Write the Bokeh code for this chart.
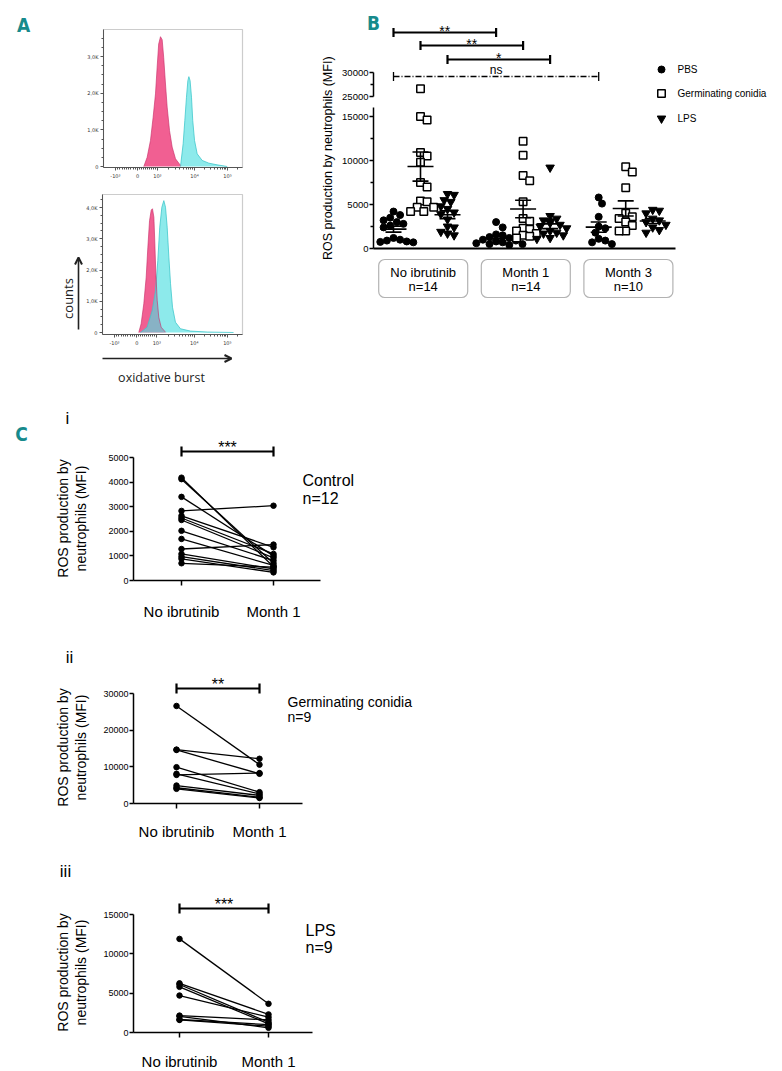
import numpy as np
from bokeh.plotting import figure
from bokeh.models import Range1d, LinearAxis, FixedTicker, BoxAnnotation, Arrow, OpenHead
from bokeh.core.properties import value
from bokeh.embed import file_html
from bokeh.resources import INLINE

# ======================= DATA =======================
# Panel A - flow cytometry histograms (display channel 0-1000 vs. cell counts)
flow_ticks = [86, 245, 388, 655, 892]
flow_tick_labels = ["-10³", "0", "10³", "10⁴", "10⁵"]
a1_yticks = [0, 1000, 2000, 3000]
a1_ylabels = ["0", "1,0K", "2,0K", "3,0K"]
a2_yticks = [0, 1000, 2000, 3000, 4000]
a2_ylabels = ["0", "1,0K", "2,0K", "3,0K", "4,0K"]
a1_pink_ch = [290, 314, 338, 357, 374, 386, 397, 410, 422, 433, 446, 458, 475, 494, 518, 554]
a1_pink_n = [0, 250, 710, 1340, 1980, 2710, 3340, 3540, 3460, 2980, 2250, 1620, 980, 530, 210, 30]
a1_cyan_ch = [554, 573, 585, 597, 607, 614, 623, 633, 642, 655, 674, 710, 758, 818, 890]
a1_cyan_n = [0, 620, 1250, 1890, 2340, 2450, 2340, 1890, 1250, 710, 345, 165, 90, 45, 0]
a2_pink_ch = [259, 276, 295, 312, 324, 336, 348, 357, 367, 374, 381, 391, 402, 419, 450]
a2_pink_n = [0, 280, 920, 1770, 2730, 3580, 3920, 3960, 3690, 2840, 1880, 1020, 490, 170, 10]
a2_cyan_ch = [271, 319, 355, 379, 395, 409, 424, 438, 450, 462, 474, 486, 500, 521, 557, 629, 748, 936]
a2_cyan_n = [0, 170, 700, 1340, 2300, 3370, 4010, 4220, 4010, 3370, 2410, 1560, 810, 330, 120, 45, 15, 0]

# Panel B - ROS production by neutrophils (MFI)
b_groups = ["No ibrutinib", "Month 1", "Month 3"]
b_group_n = ["n=14", "n=14", "n=10"]
b_series = ["PBS", "Germinating conidia", "LPS"]
b_pbs = [[4200, 3800, 3500, 3200, 3000, 2800, 2600, 2400, 1200, 1000, 900, 800, 750, 700],
         [3000, 2400, 1600, 1500, 1300, 1200, 1000, 900, 800, 700, 600, 500, 500, 400],
         [5800, 5100, 3600, 2500, 2300, 1800, 1100, 900, 700, 500]]
b_conidia = [[26600, 15000, 14600, 10900, 10500, 9800, 7500, 7000, 5400, 5300, 4700, 4700, 4200, 4200],
             [12200, 10600, 8300, 7700, 5300, 3400, 3100, 2300, 2200, 2000, 1700, 1500, 1400, 1200],
             [9300, 8700, 6900, 4000, 3600, 3400, 3000, 2600, 2000, 2000]]
b_lps = [[6200, 6100, 5500, 5300, 4800, 4500, 4100, 3900, 3300, 2500, 2400, 1900, 1700, 1500],
         [9200, 3700, 3400, 3200, 2900, 2700, 2500, 2300, 2000, 1800, 1700, 1500, 1200, 1100],
         [4400, 4300, 4000, 3400, 3200, 3000, 2700, 2400, 2100, 1800]]
b_lower_ticks = [0, 5000, 10000, 15000]
b_lower_minor = [2500, 7500, 12500]
b_upper_ticks = [25000, 30000]
b_upper_minor = [27500]
# (label, (group, series) from, (group, series) to)
b_comparisons = [("**", (0, 0), (1, 0)), ("**", (0, 1), (1, 1)),
                 ("*", (0, 2), (1, 2)), ("ns", (0, 0), (2, 0))]

# Panel C - paired data, No ibrutinib vs Month 1
c_categories = ["No ibrutinib", "Month 1"]
c1_before = [4180, 4120, 3400, 2830, 2630, 2540, 2460, 2020, 1690, 1280, 1080, 970, 880, 700]
c1_after = [560, 700, 1000, 3040, 1350, 1080, 920, 810, 610, 1460, 470, 400, 330, 540]
c2_before = [26600, 14700, 14600, 9900, 8100, 7800, 4900, 4300, 4000]
c2_after = [10600, 12200, 8100, 3100, 2600, 8300, 2200, 1700, 1500]
c3_before = [11900, 6250, 6100, 5800, 4700, 2150, 2050, 1650, 1600]
c3_after = [3650, 2300, 1300, 1100, 1950, 1600, 600, 1000, 800]
c1_ticks = [0, 1000, 2000, 3000, 4000, 5000]
c2_ticks = [0, 10000, 20000, 30000]
c3_ticks = [0, 5000, 10000, 15000]
c_titles = [("Control", "n=12"), ("Germinating conidia", "n=9"), ("LPS", "n=9")]
c_sig = ["***", "**", "***"]

# ======================= LAYOUT =======================
PAGE_W, PAGE_H = 782, 1071
LEFT, TOP = 0, 0
RIGHT, BOTTOM = LEFT + PAGE_W, TOP + PAGE_H
ARIAL = "Liberation Sans"
TEAL = "#178a8c"

XM, YM = {}, {}


def lin(v1, p1, v2, p2):
    k = (v2 - v1) / (p2 - p1)
    return lambda px: v1 + (px - p1) * k


def xscale(name, v1, p1, v2, p2):
    XM[name] = lin(v1, p1, v2, p2)


def yscale(name, v1, p1, v2, p2):
    YM[name] = lin(v1, p1, v2, p2)


xscale("a1", 0, 103, 1000, 242)
yscale("a1", 0, 166, 3000, 56)
xscale("a2", 0, 102, 1000, 242)
yscale("a2", 0, 332, 4000, 207)
xscale("b", 0, 393, 1, 420)
yscale("bl", 0, 248, 15000, 116)
yscale("bu", 25000, 96, 30000, 72)
xscale("c1", 0, 181, 1, 273)
yscale("c1", 0, 580, 5000, 457)
xscale("c2", 0, 176, 1, 259)
yscale("c2", 0, 803, 30000, 693)
xscale("c3", 0, 179, 1, 268)
yscale("c3", 0, 1032, 15000, 914)

p = figure(width=PAGE_W, height=PAGE_H, x_range=Range1d(LEFT, RIGHT), y_range=Range1d(BOTTOM, TOP),
           output_backend="svg", toolbar_location=None, min_border=0, title=None,
           x_axis_type=None, y_axis_type=None, outline_line_color=None)
p.background_fill_color = "white"
p.border_fill_color = "white"
p.extra_x_ranges = {n: Range1d(f(LEFT), f(RIGHT)) for n, f in XM.items()}
p.extra_y_ranges = {n: Range1d(f(BOTTOM), f(TOP)) for n, f in YM.items()}


def txt(x, y, s, size, align="center", baseline="middle", angle=0.0, font=ARIAL,
        color="black", style="normal", xr="default", yr="default"):
    p.text(x=[x], y=[y], text=[s], text_font=value(font), text_font_size=size, text_align=align,
           text_baseline=baseline, angle=angle, text_color=color, text_font_style=style,
           x_range_name=xr, y_range_name=yr)


def axis(side, xr, yr, loc, bounds, ticks, labels=None, minor=(), font=ARIAL, fs="9px",
         tick_out=4, minor_out=3, lw=1.5, color="black", standoff=1, label_color="black"):
    lo, hi = min(bounds), max(bounds)
    ticks = [t for t in ticks if lo <= t <= hi]
    ax = LinearAxis(x_range_name=xr, y_range_name=yr, fixed_location=loc, bounds=bounds,
                    ticker=FixedTicker(ticks=ticks, minor_ticks=[m for m in minor if lo <= m <= hi]),
                    axis_line_width=lw, axis_line_color=color,
                    major_tick_line_width=lw, major_tick_line_color=color,
                    major_tick_out=int(tick_out), major_tick_in=0,
                    minor_tick_line_width=lw, minor_tick_line_color=color,
                    minor_tick_out=int(minor_out), minor_tick_in=0,
                    major_label_text_font=font, major_label_text_font_size=fs,
                    major_label_standoff=int(standoff), major_label_text_color=label_color)
    if labels is not None:
        ax.major_label_overrides = {t: l for t, l in zip(ticks, labels)}
    p.add_layout(ax, side)
    return ax


# ---------------- Panel A ----------------
txt(23, 24, "A", "19px", font="DejaVu Sans Condensed", style="bold", color=TEAL)

flow_minor = ([245 - (245 - 86) * k / 10 for k in range(1, 10)] +
              [245 + (388 - 245) * k / 10 for k in range(1, 10)] +
              [388 + (655 - 388) * np.log10(k) for k in range(2, 10)] +
              [655 + (892 - 655) * np.log10(k) for k in range(2, 10)] +
              [892 + (892 - 655) * np.log10(k) for k in range(2, 4)])

PINK, PINK_LINE = "#f0568c", "#c8306a"
CYAN, CYAN_LINE = "#50dee1", "#40c8cc"

for name, (ftop, fbot), yt, yl, pk, pn, cy, cn in [
        ("a1", (29, 167), a1_yticks, a1_ylabels, a1_pink_ch, a1_pink_n, a1_cyan_ch, a1_cyan_n),
        ("a2", (194, 334), a2_yticks, a2_ylabels, a2_pink_ch, a2_pink_n, a2_cyan_ch, a2_cyan_n)]:
    ybot, ytop = YM[name](fbot), YM[name](ftop)
    p.varea(x=pk, y1=0, y2=pn, fill_color=PINK, fill_alpha=0.95, x_range_name=name, y_range_name=name)
    p.varea(x=cy, y1=0, y2=cn, fill_color=CYAN, fill_alpha=0.65, x_range_name=name, y_range_name=name)
    p.line(x=cy, y=cn, line_color=CYAN_LINE, line_width=0.8, x_range_name=name, y_range_name=name)
    p.line(x=pk, y=pn, line_color=PINK_LINE, line_width=0.8, line_alpha=0.8,
           x_range_name=name, y_range_name=name)
    p.add_layout(BoxAnnotation(left=0, right=1000, bottom=ybot, top=ytop, x_range_name=name,
                               y_range_name=name, fill_alpha=0, line_color="#555555", line_width=1.2))
    axis("left", name, name, 0, (ybot, ytop), yt, yl,
         minor=[250 * k for k in range(1, 18) if k % 4], font="DejaVu Sans", fs="5px",
         tick_out=3, minor_out=2, lw=1, color="#555555", standoff=2, label_color="#333333")
    axis("below", name, name, ybot, (0, 1000), flow_ticks, flow_tick_labels, minor=flow_minor,
         font="DejaVu Sans", fs="5px", tick_out=3, minor_out=2, lw=1,
         color="#555555", standoff=2, label_color="#333333")

txt(67, 298, "counts", "13px", angle=np.pi / 2, font="Open Sans", color="#222222")
txt(161, 377, "oxidative burst", "12.5px", font="Open Sans", color="#222222")
p.add_layout(Arrow(end=OpenHead(size=7, line_width=2, line_color="#222222"), x_start=78, y_start=329,
                   x_end=78, y_end=257, line_width=1.6, line_color="#222222"))
p.add_layout(Arrow(end=OpenHead(size=7, line_width=2, line_color="#222222"), x_start=102, y_start=358,
                   x_end=231, y_end=358, line_width=1.6, line_color="#222222"))

# ---------------- Panel B ----------------
txt(373, 22, "B", "19px", font="DejaVu Sans Condensed", style="bold", color=TEAL)
G_STEP = 3.8
bx_left, bx_right = XM["b"](373), XM["b"](675)
PX_X = 27.0                 # px per x unit
PX_LOW = 132.0 / 15000      # px per MFI (lower segment)
PX_UP = 24.0 / 5000         # px per MFI (upper segment)
BREAK = 16000

styles = [dict(marker="circle", size=7, fill_color="black", line_color="black", line_width=1),
          dict(marker="square", size=7.5, fill_color="white", line_color="black", line_width=1.5),
          dict(marker="inverted_triangle", size=8.5, fill_color="black", line_color="black", line_width=1)]


def swarm(vals, ppu, diam=6.6, step=3.3):
    vals = np.asarray(vals, float)
    ys = vals * ppu
    offs = np.zeros(len(vals))
    cands = [0.0]
    for k in range(1, 14):
        cands += [k * step, -k * step]
    placed = []
    for i in np.argsort(-vals, kind="stable"):
        for c in cands:
            if all((c - ox) ** 2 + (ys[i] - oy) ** 2 >= diam ** 2 for ox, oy in placed):
                offs[i] = c
                placed.append((c, ys[i]))
                break
    return offs / PX_X


def pos(g, s):
    return g * G_STEP + s


for g in range(3):
    for s, data in enumerate([b_pbs, b_conidia, b_lps]):
        vals = np.asarray(data[g], float)
        c = pos(g, s)
        low = vals[vals <= BREAK]
        up = vals[vals > BREAK]
        p.scatter(x=c + swarm(low, PX_LOW), y=low, x_range_name="b", y_range_name="bl", **styles[s])
        if len(up):
            p.scatter(x=c + swarm(up, PX_UP), y=up, x_range_name="b", y_range_name="bu", **styles[s])
        m = vals.mean()
        se = vals.std(ddof=1) / np.sqrt(len(vals))
        hw, cw = 13 / PX_X, 8 / PX_X
        p.segment(x0=[c - hw, c, c - cw, c - cw], y0=[m, m - se, m - se, m + se],
                  x1=[c + hw, c, c + cw, c + cw], y1=[m, m + se, m - se, m + se],
                  line_color="black", line_width=1.6, x_range_name="b", y_range_name="bl")

axis("left", "b", "bl", bx_left, (0, BREAK), b_lower_ticks, minor=b_lower_minor, fs="9.5px",
     tick_out=4, minor_out=3, standoff=1)
axis("left", "b", "bu", bx_left, (25000, 30000), b_upper_ticks, minor=b_upper_minor, fs="9.5px",
     tick_out=4, minor_out=3, standoff=1)
axis("below", "b", "bl", 0, (bx_left, bx_right), [], lw=1.8)

txt(327, 156, "ROS production  by neutrophils (MFI)", "12.5px", angle=np.pi / 2)

# group boxes
for g in range(3):
    cx = pos(g, 1) + 0.1
    hw = 44.5 / PX_X
    p.add_layout(BoxAnnotation(left=cx - hw, right=cx + hw, top=259, bottom=297, x_range_name="b",
                               fill_alpha=0, line_color="black", line_width=1.2, border_radius=6))
    txt(cx, 272, b_groups[g], "13px", xr="b")
    txt(cx, 286, b_group_n[g], "13px", xr="b")

# significance brackets
sig_levels = [32, 45, 59, 76]
for (lab, a, b), yb in zip(b_comparisons, sig_levels):
    x0, x1 = pos(*a), pos(*b)
    dashed = lab == "ns"
    lw = 1.3 if dashed else 2.2
    p.segment(x0=[x0], y0=[yb], x1=[x1], y1=[yb], line_color="black", line_width=lw,
              line_dash="6 2 1 2" if dashed else "solid", x_range_name="b")
    p.segment(x0=[x0, x1], y0=[yb - 4.5, yb - 4.5], x1=[x0, x1], y1=[yb + 4.5, yb + 4.5],
              line_color="black", line_width=lw, x_range_name="b")
    if dashed:
        txt((x0 + x1) / 2, yb - 7, lab, "12px", baseline="middle", xr="b")
    else:
        txt((x0 + x1) / 2, yb - 2, lab, "14px", baseline="alphabetic", xr="b")

# legend
for s, (name, yy) in enumerate(zip(b_series, [69, 93, 118])):
    p.scatter(x=[661], y=[yy], **styles[s])
    txt(677, yy, name, "10px", align="left")

# ---------------- Panel C ----------------
txt(21, 433, "C", "19px", font="DejaVu Sans Condensed", style="bold", color=TEAL)

c_panels = [
    dict(n="c1", before=c1_before, after=c1_after, ticks=c1_ticks, xend=320, ymax=5000, sig=451,
         roman=("i", 67, 418), title_xy=(302, 480, 498), ylab=518, lab_fs="16px", standoff=17),
    dict(n="c2", before=c2_before, after=c2_after, ticks=c2_ticks, xend=302, ymax=30000, sig=688,
         roman=("ii", 69, 657), title_xy=(287, 701, 716), ylab=747, lab_fs="14px", standoff=14),
    dict(n="c3", before=c3_before, after=c3_after, ticks=c3_ticks, xend=312, ymax=15000, sig=908,
         roman=("iii", 65, 871), title_xy=(305, 930, 947), ylab=972, lab_fs="16px", standoff=15),
]

for i, cp in enumerate(c_panels):
    n = cp["n"]
    xl, xr_ = XM[n](133), XM[n](cp["xend"])
    bef, aft = cp["before"], cp["after"]
    k = len(bef)
    p.segment(x0=[0] * k, y0=bef, x1=[1] * k, y1=aft, line_color="black", line_width=1.3,
              x_range_name=n, y_range_name=n)
    p.scatter(x=[0] * k + [1] * k, y=list(bef) + list(aft), marker="circle", size=5.5,
              fill_color="black", line_color="black", x_range_name=n, y_range_name=n)
    axis("left", n, n, xl, (0, cp["ymax"]), cp["ticks"], fs="9px", tick_out=4, standoff=1)
    axis("below", n, n, 0, (xl, xr_), [0, 1], c_categories, fs="15px", tick_out=5,
         standoff=cp["standoff"])
    # significance bracket
    yb = cp["sig"]
    p.segment(x0=[0], y0=[yb], x1=[1], y1=[yb], line_color="black", line_width=2.2,
              x_range_name=n)
    p.segment(x0=[0, 1], y0=[yb - 5, yb - 5], x1=[0, 1], y1=[yb + 5, yb + 5], line_color="black",
              line_width=2.2, x_range_name=n)
    txt(0.5, yb - 4, c_sig[i], "16px", baseline="alphabetic", xr=n)
    # texts
    r, rx, ry = cp["roman"]
    txt(rx, ry, r, "17px")
    tx, ty1, ty2 = cp["title_xy"]
    txt(tx, ty1, c_titles[i][0], cp["lab_fs"], align="left")
    txt(tx, ty2, c_titles[i][1], cp["lab_fs"], align="left")
    txt(62, cp["ylab"], "ROS production by", "14px", angle=np.pi / 2)
    txt(80, cp["ylab"], "neutrophils (MFI)", "14px", angle=np.pi / 2)

open("out.html", "w").write(file_html(p, INLINE))
